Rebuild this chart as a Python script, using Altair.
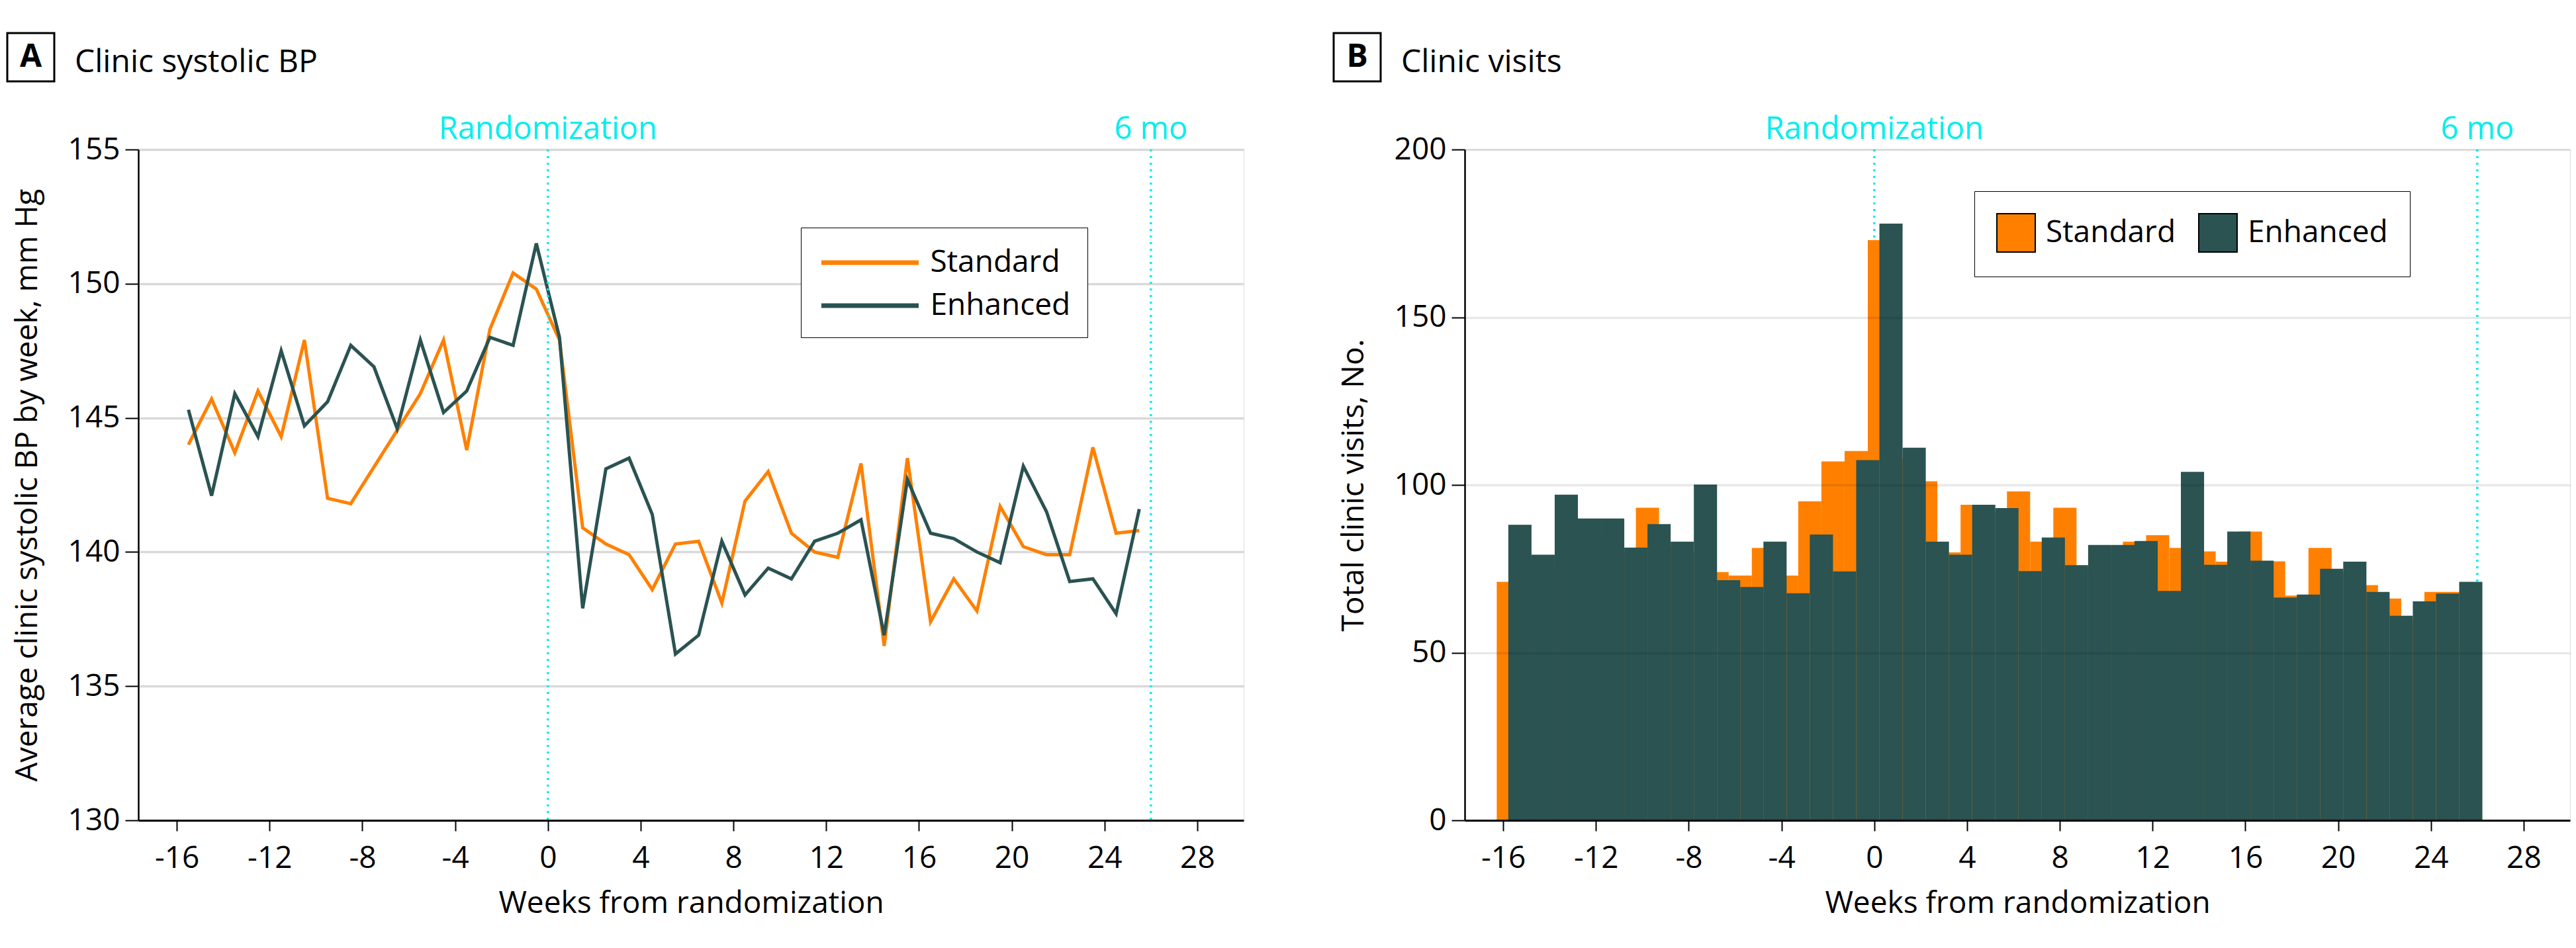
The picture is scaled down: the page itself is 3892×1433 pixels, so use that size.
import altair as alt
import pandas as pd

FONT = "Open Sans"
ORANGE = "#ff8000"
TEAL = "#2a5352"
CYAN = "#00eeee"

groups = ["Standard", "Enhanced"]
group_colors = [ORANGE, TEAL]

# ---------------- Panel A: clinic systolic BP by week ----------------
bp_weeks = [-15.5, -14.5, -13.5, -12.5, -11.5, -10.5, -9.5, -8.5, -7.5, -6.5,
            -5.5, -4.5, -3.5, -2.5, -1.5, -0.5, 0.5, 1.5, 2.5, 3.5,
            4.5, 5.5, 6.5, 7.5, 8.5, 9.5, 10.5, 11.5, 12.5, 13.5,
            14.5, 15.5, 16.5, 17.5, 18.5, 19.5, 20.5, 21.5, 22.5, 23.5,
            24.5, 25.5]
bp_standard = [144.0, 145.7, 143.7, 146.0, 144.3, 147.9, 142.0, 141.8, None, None,
               145.9, 147.9, 143.8, 148.3, 150.4, 149.8, 147.9, 140.9, 140.3, 139.9,
               138.6, 140.3, 140.4, 138.1, 141.9, 143.0, 140.7, 140.0, 139.8, 143.3,
               136.5, 143.5, 137.4, 139.0, 137.8, 141.7, 140.2, 139.9, 139.9, 143.9,
               140.7, 140.8]
bp_enhanced = [145.3, 142.1, 145.9, 144.3, 147.5, 144.7, 145.6, 147.7, 146.9, 144.6,
               147.9, 145.2, 146.0, 148.0, 147.7, 151.5, 148.0, 137.9, 143.1, 143.5,
               141.4, 136.2, 136.9, 140.4, 138.4, 139.4, 139.0, 140.4, 140.7, 141.2,
               136.9, 142.7, 140.7, 140.5, 140.0, 139.6, 143.2, 141.5, 138.9, 139.0,
               137.7, 141.6]

# ---------------- Panel B: total clinic visits per weekly bin ----------------
std_first_edge = -16.28
enh_first_edge = -15.78
bin_width = 1.0
visits_standard = [71.1, 78, 77, 88, 86, 80, 93.2, 82, 80, 74.0,
                   73.0, 81.2, 73.0, 95.1, 107.0, 110.1, 173.0, 108, 101.1, 79.9,
                   94.1, 92, 98.1, 83.1, 93.2, 75, 81, 83.1, 85.0, 81.2,
                   80.2, 77.1, 86.1, 77.2, 67.0, 81.2, 74, 70.1, 66.1, 60,
                   68.1, 68.1]
visits_enhanced = [88.1, 79.2, 97.1, 90.0, 90.0, 81.3, 88.3, 83.1, 100.1, 71.6,
                   69.6, 83.1, 67.7, 85.2, 74.2, 107.4, 177.9, 111.1, 83.1, 79.2,
                   94.1, 93.1, 74.3, 84.3, 76.1, 82.1, 82.1, 83.3, 68.4, 103.9,
                   76.2, 86.1, 77.4, 66.4, 67.3, 75.0, 77.1, 68.1, 61.0, 65.3,
                   67.6, 71.1]

x_ticks = [-16, -12, -8, -4, 0, 4, 8, 12, 16, 20, 24, 28]
bp_ticks = [130, 135, 140, 145, 150, 155]
visit_ticks = [0, 50, 100, 150, 200]

event_weeks = [0, 26]
event_labels = ["Randomization", "6 mo"]

# ---------------- data frames ----------------
std_rows = [{"week": w, "bp": v, "group": "Standard"}
            for w, v in zip(bp_weeks, bp_standard) if v is not None]
enh_rows = [{"week": w, "bp": v, "group": "Enhanced"}
            for w, v in zip(bp_weeks, bp_enhanced) if v is not None]
bp_std_df = pd.DataFrame(std_rows)
bp_enh_df = pd.DataFrame(enh_rows)

vs_df = pd.DataFrame({
    "start": [std_first_edge + i * bin_width for i in range(len(visits_standard))],
    "visits": visits_standard, "group": "Standard", "base": 0})
vs_df["end"] = vs_df["start"] + bin_width
ve_df = pd.DataFrame({
    "start": [enh_first_edge + i * bin_width for i in range(len(visits_enhanced))],
    "visits": visits_enhanced, "group": "Enhanced", "base": 0})
ve_df["end"] = ve_df["start"] + bin_width

events_df = pd.DataFrame({"week": event_weeks, "label": event_labels})

W = 1670
H = 1014
xscale = alt.Scale(domain=[-17.66, 30], nice=False, zero=False)
color_scale = alt.Scale(domain=groups, range=group_colors)


def x_axis():
    return alt.Axis(values=x_ticks, title="Weeks from randomization", grid=False,
                    labelExpr="'' + datum.value",
                    tickSize=16, tickWidth=2, tickColor="black",
                    domainColor="black", domainWidth=3,
                    labelFont=FONT, labelFontSize=46, labelColor="black", labelPadding=19,
                    labelOverlap=False, labelFlush=False,
                    titleFont=FONT, titleFontSize=46, titleColor="black",
                    titleFontWeight="normal", titleY=139, titleBaseline="alphabetic",
                    zindex=1)


def y_axis(values, title, grid_color, grid_opacity, z):
    return alt.Axis(values=values, title=title, grid=True, gridColor=grid_color,
                    gridOpacity=grid_opacity, gridWidth=3.5,
                    tickSize=20, tickWidth=2, tickColor="black",
                    domainColor="black", domainWidth=2.5,
                    labelFont=FONT, labelFontSize=46, labelColor="black", labelPadding=8,
                    labelOverlap=False, labelFlush=False,
                    titleFont=FONT, titleFontSize=46, titleColor="black",
                    titleFontWeight="normal", titleX=-168, titleBaseline="middle",
                    zindex=z)


def decorations(letter, title):
    d = pd.DataFrame({"letter": [letter], "title": [title]})
    box = alt.Chart(d).mark_rect(fill="white", stroke="black", strokeWidth=3).encode(
        x=alt.value(-198), x2=alt.value(-127), y=alt.value(-176), y2=alt.value(-103))
    let = alt.Chart(d).mark_text(font=FONT, fontSize=48, fontWeight="bold",
                                 align="center", baseline="middle", color="black").encode(
        x=alt.value(-162.5), y=alt.value(-139.5), text="letter:N")
    tit = alt.Chart(d).mark_text(font=FONT, fontSize=48, align="left",
                                 baseline="alphabetic", color="black").encode(
        x=alt.value(-96), y=alt.value(-117), text="title:N")
    return [box, let, tit]


def event_layers():
    rules = alt.Chart(events_df).mark_rule(color=CYAN, strokeWidth=3.5,
                                           strokeDash=[3, 7]).encode(
        x=alt.X("week:Q", scale=xscale))
    labels = alt.Chart(events_df).mark_text(font=FONT, fontSize=47, color=CYAN,
                                            align="center", baseline="alphabetic").encode(
        x=alt.X("week:Q", scale=xscale), y=alt.value(-16), text="label:N")
    return rules, labels


legend_a = alt.Legend(title=None, orient="none", legendX=1001, legendY=118,
                      direction="vertical", symbolType="M-3,0H3", symbolSize=2401,
                      symbolStrokeWidth=7, symbolOffset=51.5,
                      labelFont=FONT, labelFontSize=46,
                      labelColor="black", labelOffset=63, rowPadding=14, padding=25,
                      strokeColor="black", fillColor="white",
                      labelLimit=0)

legend_b = alt.Legend(title=None, orient="none", legendX=770, legendY=63,
                      direction="horizontal", symbolType="square", symbolSize=3364,
                      symbolStrokeColor="black", symbolStrokeWidth=2, symbolOpacity=1,
                      labelFont=FONT, labelFontSize=46, labelColor="black",
                      labelOffset=15, columnPadding=30, padding=33,
                      strokeColor="black", fillColor="white",
                      labelLimit=0)

# ---------------- Panel A chart ----------------
ya = alt.Scale(domain=[130, 155], nice=False, zero=False)
line_std = alt.Chart(bp_std_df).mark_line(strokeWidth=5).encode(
    x=alt.X("week:Q", scale=xscale, axis=x_axis()),
    y=alt.Y("bp:Q", scale=ya,
            axis=y_axis(bp_ticks, "Average clinic systolic BP by week, mm Hg", "#d9d9d9", 1, 0)),
    color=alt.Color("group:N", scale=color_scale, legend=legend_a))
line_enh = alt.Chart(bp_enh_df).mark_line(strokeWidth=5).encode(
    x=alt.X("week:Q", scale=xscale),
    y=alt.Y("bp:Q", scale=ya),
    color=alt.Color("group:N", scale=color_scale, legend=legend_a))
rules_a, labels_a = event_layers()
panel_a = alt.layer(line_std, line_enh, rules_a, labels_a,
                    *decorations("A", "Clinic systolic BP")).properties(width=W, height=H)

# ---------------- Panel B chart ----------------
yb = alt.Scale(domain=[0, 200], nice=False, zero=True)
rules_b, labels_b = event_layers()
bars_std = alt.Chart(vs_df).mark_rect().encode(
    x=alt.X("start:Q", scale=xscale, axis=x_axis()),
    x2="end:Q",
    y=alt.Y("visits:Q", scale=yb,
            axis=y_axis(visit_ticks, "Total clinic visits, No.", "black", 0.09, 1)),
    y2="base:Q",
    color=alt.Color("group:N", scale=color_scale, legend=legend_b))
bars_enh = alt.Chart(ve_df).mark_rect().encode(
    x=alt.X("start:Q", scale=xscale),
    x2="end:Q",
    y=alt.Y("visits:Q", scale=yb),
    y2="base:Q",
    color=alt.Color("group:N", scale=color_scale, legend=legend_b))
panel_b = alt.layer(rules_b, bars_std, bars_enh, labels_b,
                    *decorations("B", "Clinic visits")).properties(width=W, height=H)

chart = alt.hconcat(panel_a, panel_b, spacing=133).resolve_scale(
    color="independent").properties(
    padding={"left": 1, "top": 40, "right": 0, "bottom": 20}
).configure_view(stroke=None).configure_legend(strokeWidth=3).configure(background="white")

chart.save("out.html", embed_options={"renderer": "svg", "actions": False})
